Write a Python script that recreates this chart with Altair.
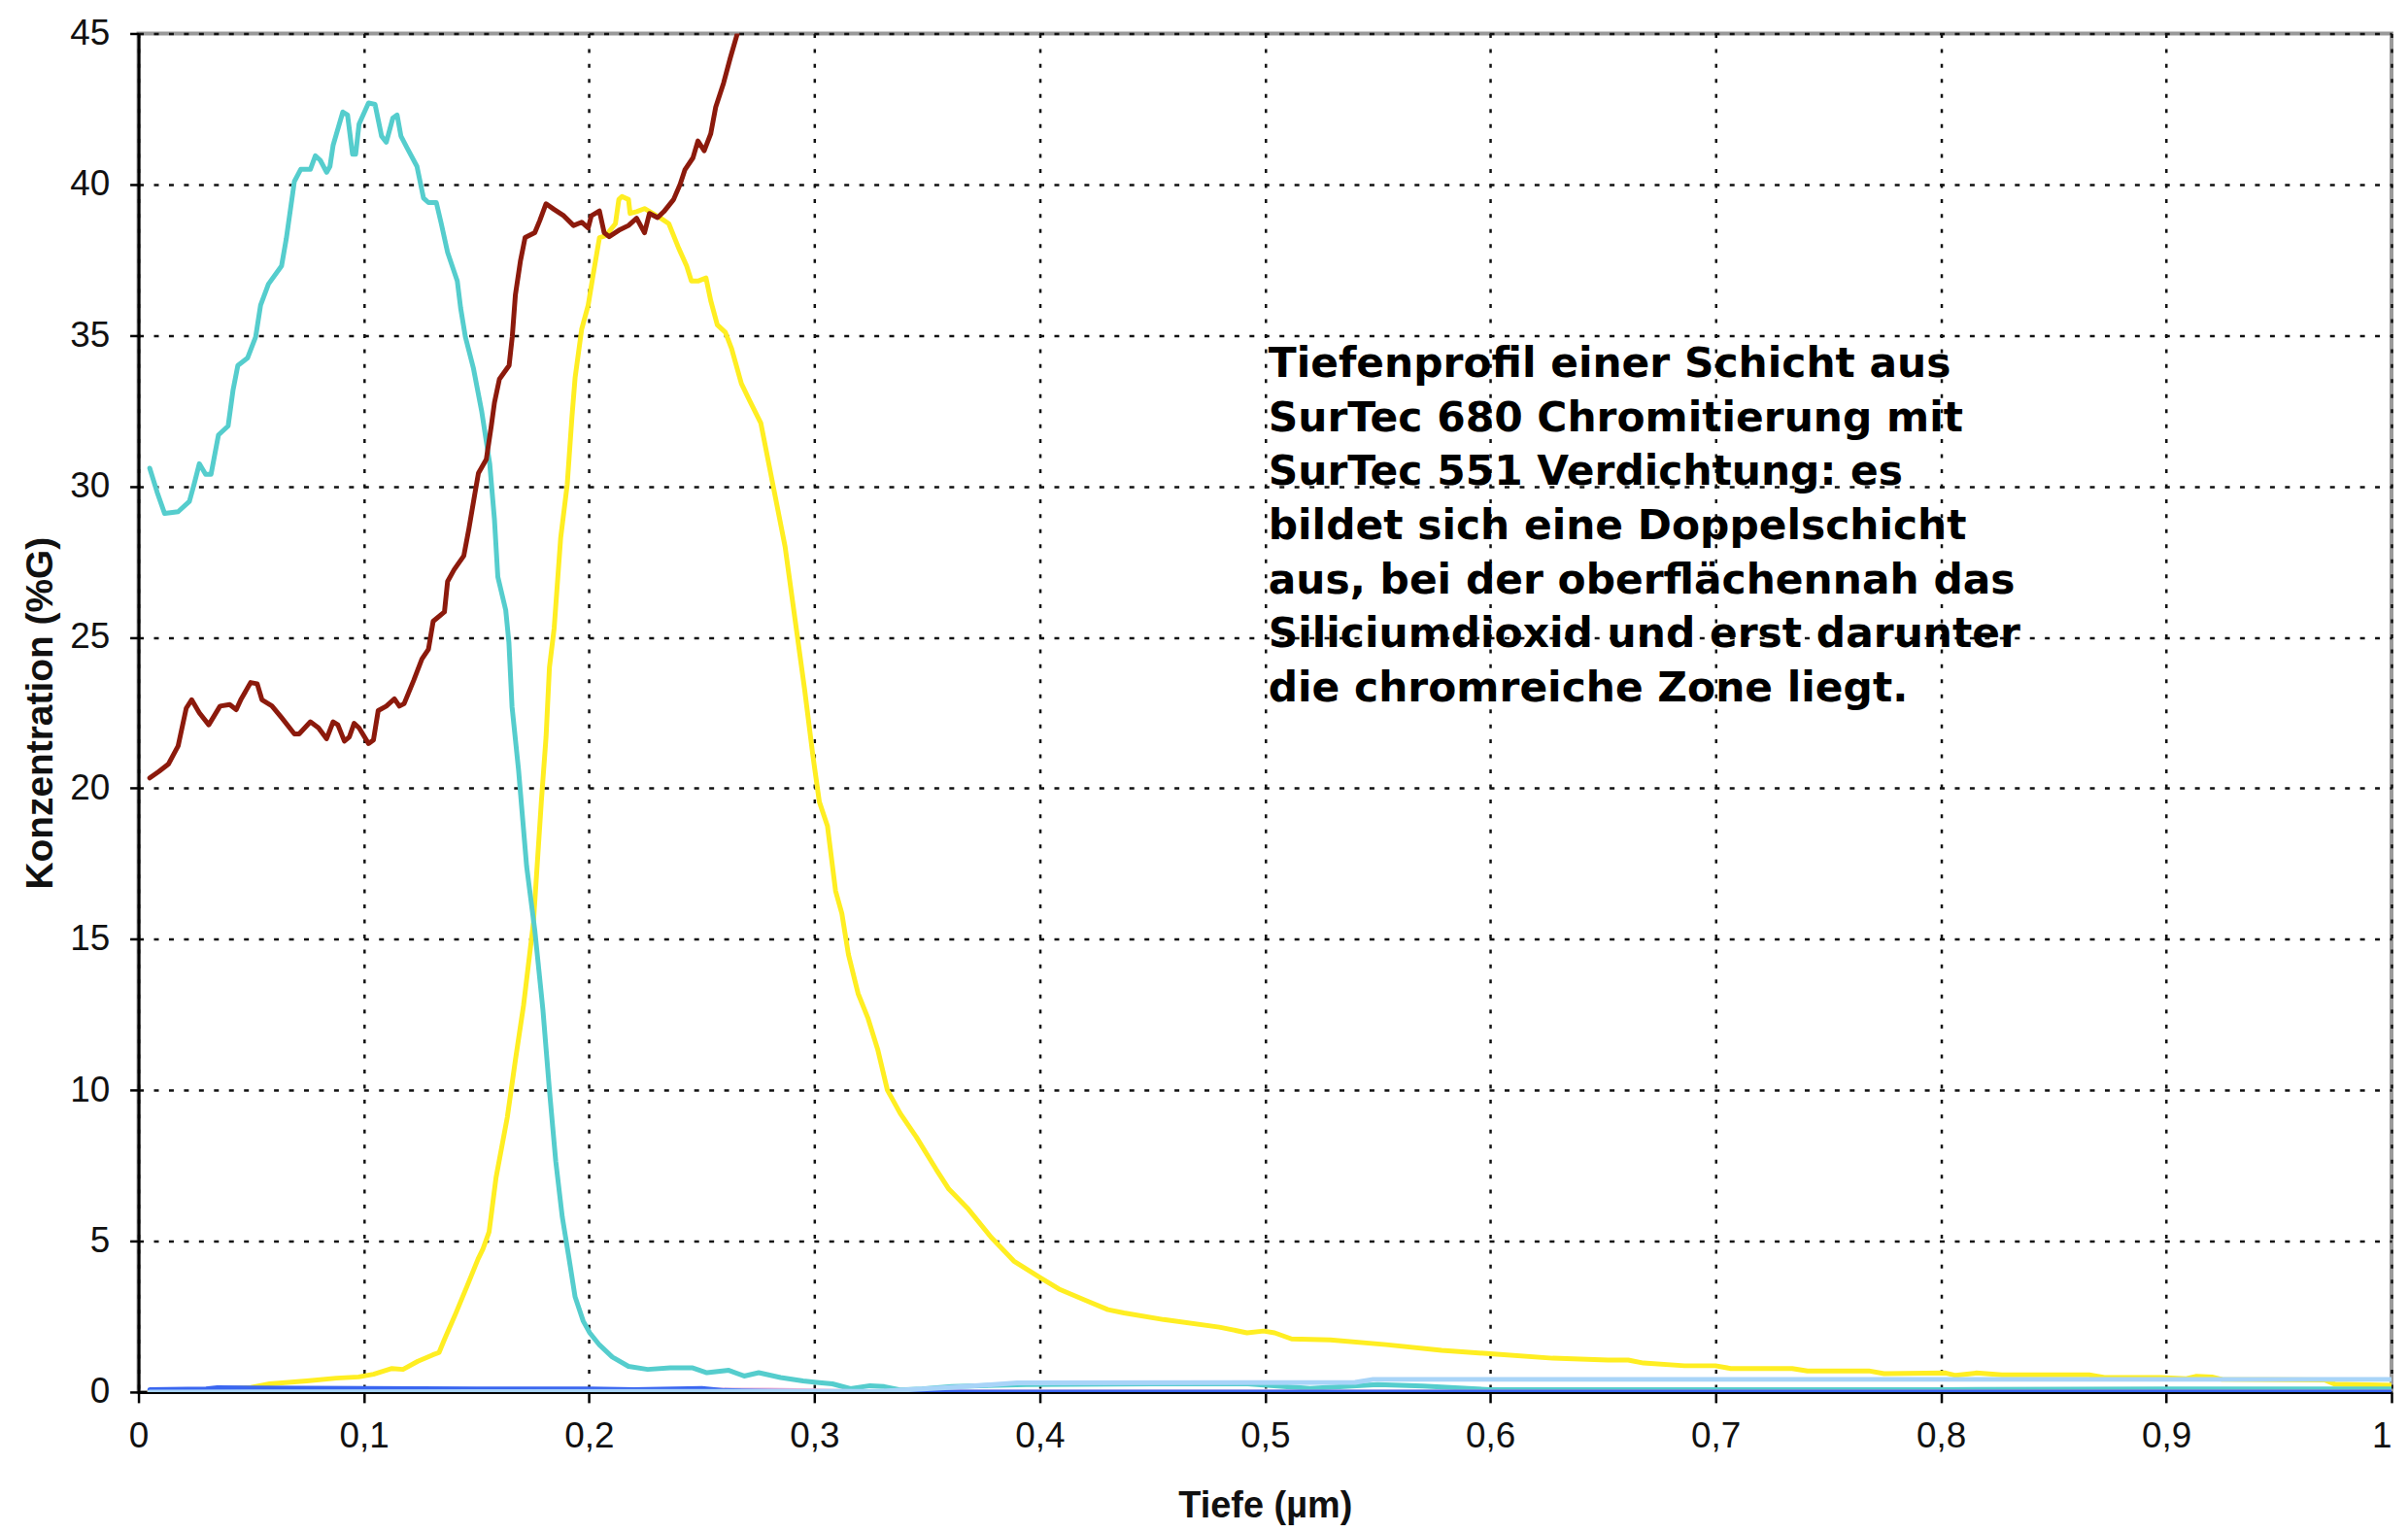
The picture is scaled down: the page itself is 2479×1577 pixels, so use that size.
import altair as alt
import pandas as pd

# ---------------- data ----------------
x_ticks = [0, 0.1, 0.2, 0.3, 0.4, 0.5, 0.6, 0.7, 0.8, 0.9, 1.0]
y_ticks = [0, 5, 10, 15, 20, 25, 30, 35, 40, 45]

cyan_x = [0.005, 0.0083, 0.0116, 0.0176, 0.0226, 0.0248, 0.027, 0.0298, 0.0322, 0.0355,
          0.0398, 0.042, 0.0441, 0.0484, 0.052, 0.0542, 0.0577, 0.0635, 0.0656, 0.0692,
          0.072, 0.0763, 0.0785, 0.0807, 0.0835, 0.085, 0.0864, 0.0907, 0.0928, 0.095,
          0.0964, 0.0979, 0.1021, 0.105, 0.1079, 0.11, 0.1129, 0.1148, 0.1165, 0.1193,
          0.1236, 0.1265, 0.1287, 0.1322, 0.1344, 0.1372, 0.1415, 0.143, 0.1451, 0.1487,
          0.1523, 0.1559, 0.158, 0.1595, 0.163, 0.1644, 0.1658, 0.1687, 0.1723, 0.1759,
          0.1795, 0.1824, 0.1852, 0.1881, 0.191, 0.1938, 0.1974, 0.2003, 0.2046, 0.2103,
          0.2175, 0.226, 0.236, 0.246, 0.2523, 0.262, 0.2688, 0.2753, 0.285, 0.295,
          0.301, 0.308, 0.316, 0.3247, 0.331, 0.338, 0.3477, 0.361, 0.394, 0.45,
          0.4924, 0.52, 0.55, 0.57, 0.6, 0.7, 0.8, 0.9, 1.0]
cyan_y = [30.6, 29.8, 29.1, 29.16, 29.5, 30.1, 30.75, 30.4, 30.4, 31.7,
          32.0, 33.2, 34.0, 34.25, 34.95, 36.0, 36.7, 37.3, 38.2, 40.1,
          40.5, 40.5, 40.95, 40.8, 40.4, 40.6, 41.3, 42.4, 42.3, 41.0,
          41.0, 42.0, 42.7, 42.65, 41.6, 41.4, 42.2, 42.3, 41.6, 41.2,
          40.6, 39.55, 39.4, 39.4, 38.7, 37.75, 36.8, 35.9, 34.95, 33.9,
          32.5, 30.75, 28.9, 27.0, 25.9, 24.84, 22.7, 20.6, 17.4, 15.3,
          12.67, 10.0, 7.65, 5.8, 4.47, 3.15, 2.35, 1.96, 1.56, 1.16,
          0.85, 0.75, 0.8, 0.8, 0.64, 0.72, 0.53, 0.64, 0.48, 0.37,
          0.32, 0.27, 0.11, 0.21, 0.18, 0.07, 0.1, 0.18, 0.25, 0.27,
          0.27, 0.12, 0.25, 0.2, 0.08, 0.08, 0.08, 0.1, 0.1]

red_x = [0.005, 0.009, 0.0133, 0.0176, 0.0212, 0.0236, 0.027, 0.0312, 0.0362, 0.0405,
         0.0434, 0.0456, 0.0498, 0.0527, 0.0548, 0.0592, 0.0635, 0.0692, 0.0713, 0.0763,
         0.0799, 0.0835, 0.0864, 0.0885, 0.0914, 0.0936, 0.0957, 0.0979, 0.1021, 0.1043,
         0.1064, 0.11, 0.1136, 0.1158, 0.1179, 0.1222, 0.1258, 0.1287, 0.1308, 0.1358,
         0.1372, 0.1401, 0.1444, 0.1466, 0.1494, 0.1509, 0.1544, 0.1566, 0.158, 0.1602,
         0.1645, 0.1659, 0.1673, 0.1695, 0.1716, 0.1759, 0.1781, 0.1809, 0.1845, 0.1888,
         0.1931, 0.1967, 0.1996, 0.201, 0.2046, 0.2067, 0.2089, 0.2132, 0.2175, 0.2211,
         0.2246, 0.2268, 0.2304, 0.2332, 0.2375, 0.2404, 0.2425, 0.2461, 0.2483, 0.2511,
         0.254, 0.2562, 0.2597, 0.2626, 0.2662, 0.272]
red_y = [20.34, 20.55, 20.8, 21.4, 22.65, 22.93, 22.5, 22.1, 22.72, 22.77,
         22.6, 22.96, 23.5, 23.46, 22.93, 22.73, 22.34, 21.8, 21.8, 22.2,
         22.0, 21.64, 22.2, 22.1, 21.56, 21.7, 22.15, 22.0, 21.48, 21.6,
         22.57, 22.72, 22.96, 22.72, 22.8, 23.58, 24.28, 24.6, 25.53, 25.84,
         26.85, 27.24, 27.7, 28.57, 29.8, 30.44, 30.9, 32.0, 32.77, 33.55,
         34.0, 34.95, 36.35, 37.45, 38.24, 38.4, 38.8, 39.36, 39.17, 38.96,
         38.64, 38.75, 38.56, 38.96, 39.12, 38.4, 38.27, 38.48, 38.64, 38.88,
         38.4, 39.04, 38.9, 39.1, 39.5, 40.0, 40.48, 40.88, 41.44, 41.12,
         41.68, 42.56, 43.36, 44.17, 45.1, 46.5]

yellow_x = [0.005, 0.03, 0.05, 0.0582, 0.0747, 0.0878, 0.0977, 0.1043, 0.1125, 0.1174,
            0.124, 0.1306, 0.1334, 0.1359, 0.1408, 0.1458, 0.1507, 0.1529, 0.1556, 0.1587,
            0.1637, 0.1673, 0.1709, 0.1753, 0.1788, 0.1809, 0.1824, 0.1845, 0.1874, 0.1903,
            0.1924, 0.1938, 0.1967, 0.1996, 0.2017, 0.2046, 0.2074, 0.2117, 0.2132, 0.2146,
            0.2175, 0.2182, 0.2211, 0.2246, 0.2282, 0.2318, 0.2354, 0.2397, 0.2433, 0.2454,
            0.2483, 0.2519, 0.254, 0.2569, 0.2605, 0.2633, 0.2676, 0.2712, 0.2762, 0.282,
            0.287, 0.2914, 0.2957, 0.2993, 0.3022, 0.3058, 0.3094, 0.3122, 0.3151, 0.3194,
            0.3237, 0.3281, 0.3324, 0.3381, 0.3453, 0.354, 0.3597, 0.3683, 0.3784, 0.3885,
            0.4, 0.4086, 0.4216, 0.4303, 0.4374, 0.455, 0.4797, 0.492, 0.4994, 0.5043,
            0.5118, 0.529, 0.5537, 0.5784, 0.603, 0.6277, 0.6523, 0.6612, 0.668, 0.6862,
            0.6999, 0.7067, 0.734, 0.7408, 0.768, 0.7748, 0.8021, 0.8066, 0.8158, 0.8271,
            0.8658, 0.8726, 0.8976, 0.9089, 0.9135, 0.9203, 0.9248, 0.9703, 0.9749, 1.0]
yellow_y = [0.05, 0.08, 0.15, 0.27, 0.37, 0.46, 0.5, 0.59, 0.78, 0.75,
            1.02, 1.23, 1.31, 1.76, 2.6, 3.5, 4.4, 4.74, 5.3, 7.1,
            9.1, 11.0, 12.8, 15.55, 19.55, 21.7, 24.0, 25.3, 28.3, 30.06,
            32.3, 33.6, 35.2, 36.0, 36.96, 38.24, 38.3, 38.7, 39.5, 39.6,
            39.5, 39.04, 39.1, 39.2, 39.04, 38.88, 38.7, 37.9, 37.3, 36.8,
            36.8, 36.9, 36.15, 35.35, 35.1, 34.55, 33.4, 32.85, 32.1, 29.9,
            28.0, 25.6, 23.25, 21.1, 19.55, 18.75, 16.6, 15.85, 14.5, 13.2,
            12.4, 11.35, 10.0, 9.23, 8.44, 7.38, 6.72, 6.06, 5.13, 4.34,
            3.8, 3.41, 3.0, 2.73, 2.62, 2.4, 2.15, 1.96, 2.02, 1.96,
            1.76, 1.73, 1.57, 1.38, 1.25, 1.12, 1.06, 1.06, 0.96, 0.87,
            0.87, 0.78, 0.78, 0.7, 0.7, 0.61, 0.63, 0.55, 0.63, 0.57,
            0.57, 0.48, 0.48, 0.44, 0.52, 0.5, 0.42, 0.4, 0.26, 0.22]

pink_x = [0.005, 0.15, 0.2, 0.28, 0.33, 1.0]
pink_y = [0.04, 0.06, 0.08, 0.06, 0.0, 0.0]

blue_x = [0.005, 0.03, 0.035, 0.1, 0.15, 0.2, 0.22, 0.25, 0.26, 0.28, 0.32, 1.0]
blue_y = [0.08, 0.1, 0.14, 0.12, 0.1, 0.1, 0.08, 0.12, 0.05, 0.02, 0.0, 0.0]

lightblue_x = [0.005, 0.33, 0.36, 0.39, 0.54, 0.548, 1.0]
lightblue_y = [0.0, 0.03, 0.15, 0.3, 0.32, 0.42, 0.42]

note_x = [0.5015]
note_y = [33.61]
note_lines = ["Tiefenprofil einer Schicht aus",
              "SurTec 680 Chromitierung mit",
              "SurTec 551 Verdichtung: es",
              "bildet sich eine Doppelschicht",
              "aus, bei der oberflächennah das",
              "Siliciumdioxid und erst darunter",
              "die chromreiche Zone liegt."]

series = [
    ("yellow", yellow_x, yellow_y, "#FFEE22"),
    ("cyan", cyan_x, cyan_y, "#55CDCD"),
    ("red", red_x, red_y, "#8C1A0C"),
    ("pink", pink_x, pink_y, "#F4A6D0"),
    ("blue", blue_x, blue_y, "#3A66F0"),
    ("lightblue", lightblue_x, lightblue_y, "#A8D4F8"),
]

# ---------------- scales & axes ----------------
W, H = 2327, 1403
xscale = alt.Scale(domain=[0, 1], nice=False, zero=False)
yscale = alt.Scale(domain=[0, 45], nice=False, zero=False)

xaxis = alt.Axis(
    values=x_ticks,
    labelExpr="replace(format(datum.value, '.1~f'), '.', ',')",
    labelAlign={"condition": {"test": "datum.value >= 1", "value": "right"},
                "value": "center"},
    grid=True, gridColor="#111111", gridDash=[4, 11.5], gridWidth=2.5,
    domainColor="#000000", domainWidth=3,
    tickColor="#000000", tickWidth=2.5, tickSize=11,
    labelFont="Liberation Sans", labelFontSize=37, labelColor="#111111",
    labelPadding=17, labelFlush=False, labelOverlap=False,
    title="Tiefe (µm)", titleFont="Liberation Sans", titleFontSize=38,
    titleFontWeight="bold", titleColor="#111111",
    titleX=W / 2, titleY=129, titleBaseline="alphabetic", titleAlign="center",
)
yaxis = alt.Axis(
    values=y_ticks,
    grid=True, gridColor="#111111", gridDash=[5, 10.5], gridWidth=2.5,
    domainColor="#000000", domainWidth=3,
    tickColor="#000000", tickWidth=2.5, tickSize=9,
    labelFont="Liberation Sans", labelFontSize=37, labelColor="#111111",
    labelPadding=21, labelFlush=False, labelOverlap=False,
    title="Konzentration (%G)", titleFont="Liberation Sans", titleFontSize=39,
    titleFontWeight="bold", titleColor="#111111",
    titleAngle=270, titleX=-89, titleY=H / 2, titleBaseline="alphabetic",
    titleAlign="center",
)

layers = []
for name, xs, ys, color in series:
    df = pd.DataFrame({"x": xs, "y": ys, "series": name})
    layers.append(
        alt.Chart(df).mark_line(color=color, strokeWidth=5, clip=True,
                                strokeJoin="round", strokeCap="round").encode(
            x=alt.X("x:Q", scale=xscale, axis=xaxis),
            y=alt.Y("y:Q", scale=yscale, axis=yaxis),
            order="x:Q",
        )
    )

note_df = pd.DataFrame({"x": note_x, "y": note_y, "t": ["\n".join(note_lines)]})
note = alt.Chart(note_df).mark_text(
    align="left", baseline="alphabetic", font="DejaVu Sans", fontWeight="bold",
    fontSize=42.5, lineHeight=55.7, lineBreak="\n", color="#000000",
).encode(
    x=alt.X("x:Q", scale=xscale, axis=xaxis),
    y=alt.Y("y:Q", scale=yscale, axis=yaxis),
    text="t:N",
)

chart = alt.layer(*layers, note).properties(
    width=W, height=H,
    padding={"left": 135, "top": 24, "right": 9, "bottom": 142},
    autosize=alt.AutoSizeParams(type="none"),
    background="#FFFFFF",
).configure_view(stroke="#9A9A9A", strokeWidth=4)

chart.save("out.html", embed_options={"renderer": "svg", "actions": False})
